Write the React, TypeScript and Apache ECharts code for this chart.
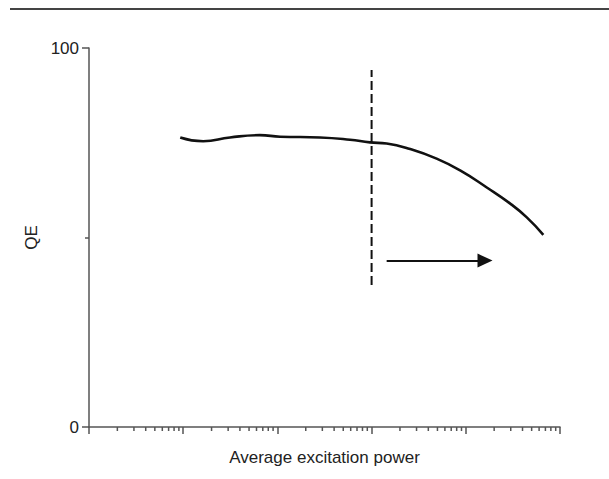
import React, { useEffect, useRef } from "react";
import * as echarts from "echarts";

// Quantum efficiency measured against average excitation power (log scale)
const powerValues = [9.3, 16.3, 31.4, 65, 107, 283, 590, 960, 1445, 2560, 4900, 8700, 16700, 29400, 44400, 66500];
const qeValues = [76.4, 75.4, 76.4, 77.0, 76.6, 76.4, 75.8, 75.1, 74.8, 73.35, 70.8, 67.7, 63.2, 59.0, 55.3, 50.7];

// Threshold marker and direction arrow
const thresholdPower = 1000;
const thresholdSpan = [37.5, 94.2];
const arrowPower = [1445, 16000];
const arrowQE = 43.9;

// Axis ranges and ticks
const xRange = [1, 100000];
const yRange = [0, 100];
const yTickStep = 100;
const decades = [1, 10, 100, 1000, 10000];
const minorMultipliers = [2, 3, 4, 5, 6, 7, 8, 9];

const FONT = "'Liberation Sans', Arial, Helvetica, sans-serif";
const AXIS_COLOR = "#555";
const TEXT_COLOR = "#222";
const INK = "#111";

export default function App() {
  const ref = useRef<HTMLDivElement>(null);

  useEffect(() => {
    if (!ref.current) return;
    const chart = echarts.init(ref.current, undefined, { renderer: "svg" });

    const minorTicks: number[][] = [];
    decades.forEach((d) => minorMultipliers.forEach((m) => minorTicks.push([d * m, 0])));

    chart.setOption({
      animation: false,
      backgroundColor: "#fff",
      textStyle: { fontFamily: FONT },
      grid: { left: 89, right: 49, top: 48, bottom: 52, containLabel: false },
      graphic: [
        {
          type: "line",
          shape: { x1: 10, y1: 9, x2: 609, y2: 9 },
          style: { stroke: "#444", lineWidth: 2 },
          silent: true,
        },
      ],
      xAxis: {
        type: "log",
        logBase: 10,
        min: xRange[0],
        max: xRange[1],
        name: "Average excitation power",
        nameLocation: "middle",
        nameGap: 22,
        nameTextStyle: { fontSize: 17, color: TEXT_COLOR, fontFamily: FONT },
        axisLine: { show: true, onZero: false, lineStyle: { color: AXIS_COLOR, width: 1.5 } },
        axisTick: { show: true, length: 7, inside: false, lineStyle: { color: AXIS_COLOR, width: 1.5 } },
        axisLabel: { show: false },
        splitLine: { show: false },
        minorTick: { show: false },
      },
      yAxis: {
        type: "value",
        min: yRange[0],
        max: yRange[1],
        interval: yTickStep,
        name: "QE",
        nameLocation: "middle",
        nameGap: 48,
        nameTextStyle: { fontSize: 17, color: TEXT_COLOR, fontFamily: FONT },
        axisLine: { show: true, lineStyle: { color: AXIS_COLOR, width: 1.5 } },
        axisTick: { show: true, length: 7, lineStyle: { color: AXIS_COLOR, width: 1.5 } },
        minorTick: { show: true, splitNumber: 2, length: 4, lineStyle: { color: AXIS_COLOR, width: 1.5 } },
        axisLabel: { fontSize: 17, color: TEXT_COLOR, margin: 10, fontFamily: FONT },
        splitLine: { show: false },
        minorSplitLine: { show: false },
      },
      series: [
        {
          // log-axis minor ticks at 2..9 within each decade
          type: "custom",
          silent: true,
          clip: false,
          data: minorTicks,
          renderItem: (_params: any, api: any) => {
            const p = api.coord([api.value(0), api.value(1)]);
            return {
              type: "line",
              shape: { x1: p[0], y1: p[1], x2: p[0], y2: p[1] + 4 },
              style: { stroke: AXIS_COLOR, lineWidth: 1.5 },
            };
          },
          z: 1,
        },
        {
          type: "line",
          smooth: 0.5,
          showSymbol: false,
          silent: true,
          data: powerValues.map((p, i) => [p, qeValues[i]]),
          lineStyle: { color: INK, width: 2.6 },
          z: 3,
        },
        {
          type: "line",
          showSymbol: false,
          silent: true,
          data: thresholdSpan.map((v) => [thresholdPower, v]),
          lineStyle: { color: INK, width: 2, type: [9, 4] },
          z: 2,
        },
        {
          type: "line",
          showSymbol: false,
          silent: true,
          data: [],
          markLine: {
            silent: true,
            animation: false,
            symbol: ["none", "triangle"],
            symbolSize: [14, 15],
            label: { show: false },
            emphasis: { disabled: true },
            lineStyle: { color: INK, width: 2, type: "solid" },
            data: [
              [
                { coord: [arrowPower[0], arrowQE] },
                { coord: [arrowPower[1], arrowQE] },
              ],
            ],
          },
        },
      ],
    });

    return () => chart.dispose();
  }, []);

  return (
    <div
      ref={ref}
      style={{ position: "fixed", left: 0, top: 0, width: 609, height: 479, background: "#fff" }}
    />
  );
}
